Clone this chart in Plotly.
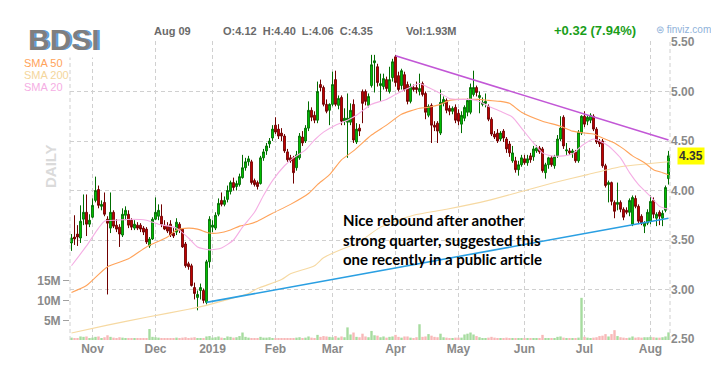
import plotly.graph_objects as go
import pandas as pd

# ---------------- data ----------------
holidays = ['2018-11-22', '2018-12-05', '2018-12-25', '2019-01-01', '2019-01-21',
            '2019-02-18', '2019-04-19', '2019-05-27', '2019-07-04']
dates = [d.strftime('%Y-%m-%d') for d in
         pd.bdate_range('2018-10-23', '2019-08-09', freq='C', holidays=holidays)]

month_labels = ['Nov', 'Dec', '2019', 'Feb', 'Mar', 'Apr', 'May', 'Jun', 'Jul', 'Aug']

open_ = [
    3.47, 3.53, 3.56, 3.52, 3.71, 3.78, 3.66,
    3.73, 3.90, 4.01, 3.84, 3.88, 3.71, 3.62, 3.78, 3.65, 3.63, 3.55, 3.75, 3.76, 3.70, 3.62, 3.65, 3.65, 3.62, 3.61, 3.44, 3.51,
    3.71, 3.74, 3.74, 3.65, 3.64, 3.66, 3.57, 3.58, 3.66, 3.61, 3.46, 3.26, 3.24, 3.02, 2.92, 2.99, 2.99, 2.87, 3.28,
    3.63, 3.62, 3.76, 3.90, 3.86, 3.91, 3.99, 4.08, 4.04, 4.06, 4.13, 4.23, 4.29, 4.29, 4.10, 4.08, 4.07, 4.33, 4.40, 4.47, 4.53,
    4.66, 4.62, 4.58, 4.55, 4.39, 4.33, 4.33, 4.23, 4.33, 4.54, 4.50, 4.63, 4.81, 4.76, 4.71, 5.07, 5.04, 4.87, 4.81,
    4.87, 5.12, 4.86, 4.94, 4.70, 4.69, 4.69, 4.87, 4.49, 4.63, 5.00, 5.00, 4.86, 5.06, 5.29, 5.25, 5.06, 5.05, 5.12, 5.00, 5.14,
    5.35, 5.16, 5.06, 5.17, 5.07, 4.90, 5.04, 5.04, 5.00, 5.08, 4.98, 4.76, 4.86, 4.66, 4.68, 4.58, 4.88, 4.91, 4.83, 4.80, 4.84,
    4.78, 4.67, 4.73, 4.79, 4.79, 4.97, 5.04, 4.94, 4.87, 4.88, 4.85, 4.72, 4.57, 4.58, 4.52, 4.60, 4.52, 4.47, 4.30, 4.30, 4.21, 4.26,
    4.32, 4.28, 4.35, 4.34, 4.40, 4.43, 4.42, 4.18, 4.26, 4.33, 4.25, 4.35, 4.52, 4.74, 4.40, 4.40, 4.38, 4.39, 4.30, 4.58,
    4.75, 4.70, 4.71, 4.75, 4.62, 4.50, 4.50, 4.25, 4.06, 4.08, 3.88, 3.86, 3.88, 3.81, 3.80, 3.78, 3.66, 3.92, 3.84, 3.74, 3.64, 3.67,
    3.69, 3.90, 3.72, 3.78, 3.72, 3.80, 4.12,
]
high = [
    3.56, 3.75, 3.65, 3.85, 3.96, 3.96, 3.76,
    3.92, 4.14, 4.05, 3.90, 3.98, 3.74, 3.98, 3.80, 3.71, 3.66, 3.82, 3.84, 3.80, 3.72, 3.70, 3.68, 3.67, 3.64, 3.63, 3.53, 3.73,
    3.93, 3.86, 3.86, 3.70, 3.68, 3.70, 3.62, 3.72, 3.68, 3.62, 3.48, 3.28, 3.26, 3.07, 2.99, 3.06, 3.01, 3.30, 3.74,
    3.70, 3.78, 3.92, 3.98, 3.94, 4.05, 4.10, 4.13, 4.10, 4.17, 4.36, 4.33, 4.35, 4.31, 4.12, 4.10, 4.35, 4.42, 4.48, 4.53, 4.66,
    4.74, 4.67, 4.63, 4.57, 4.42, 4.36, 4.35, 4.40, 4.58, 4.60, 4.66, 4.90, 4.84, 4.80, 5.10, 5.12, 5.06, 4.92, 4.88,
    5.20, 5.21, 4.96, 4.96, 4.83, 4.98, 4.88, 4.92, 4.68, 4.67, 5.02, 5.02, 4.98, 5.37, 5.37, 5.28, 5.18, 5.18, 5.15, 5.25, 5.33,
    5.37, 5.20, 5.23, 5.20, 5.10, 5.08, 5.07, 5.10, 5.18, 5.10, 5.00, 4.87, 4.88, 4.70, 4.70, 5.02, 4.95, 4.93, 4.86, 4.85, 4.87,
    4.82, 4.80, 4.86, 4.93, 5.08, 5.21, 5.06, 5.00, 4.94, 4.98, 4.87, 4.74, 4.60, 4.62, 4.60, 4.62, 4.54, 4.50, 4.45, 4.34, 4.30, 4.36,
    4.36, 4.36, 4.38, 4.45, 4.46, 4.45, 4.44, 4.28, 4.34, 4.35, 4.36, 4.56, 4.75, 4.76, 4.48, 4.43, 4.42, 4.41, 4.61, 4.76,
    4.80, 4.76, 4.78, 4.77, 4.64, 4.52, 4.52, 4.27, 4.10, 4.09, 3.90, 4.08, 3.90, 3.83, 3.83, 3.92, 3.95, 3.95, 3.86, 3.76, 3.69, 3.81,
    3.95, 3.93, 3.78, 3.80, 3.80, 4.05, 4.40,
]
low = [
    3.39, 3.45, 3.44, 3.47, 3.65, 3.54, 3.63,
    3.72, 3.88, 3.82, 3.80, 3.74, 2.95, 3.57, 3.62, 3.58, 3.43, 3.53, 3.70, 3.62, 3.60, 3.60, 3.60, 3.58, 3.55, 3.46, 3.42, 3.50,
    3.70, 3.70, 3.63, 3.60, 3.57, 3.53, 3.52, 3.55, 3.57, 3.42, 3.22, 3.20, 3.03, 2.90, 2.79, 2.90, 2.86, 2.85, 3.22,
    3.58, 3.60, 3.74, 3.84, 3.84, 3.88, 3.96, 4.00, 4.00, 4.04, 4.12, 4.20, 4.25, 4.06, 4.04, 4.01, 4.06, 4.30, 4.36, 4.43, 4.50,
    4.57, 4.52, 4.50, 4.38, 4.29, 4.28, 4.07, 4.20, 4.31, 4.45, 4.48, 4.60, 4.70, 4.68, 4.68, 5.00, 4.85, 4.78, 4.66,
    4.85, 4.85, 4.82, 4.66, 4.66, 4.33, 4.66, 4.48, 4.47, 4.55, 4.68, 4.86, 4.84, 5.04, 4.99, 5.05, 4.90, 5.02, 5.00, 4.98, 5.10,
    5.05, 5.00, 5.02, 5.00, 4.87, 4.88, 5.00, 4.98, 4.96, 4.95, 4.72, 4.74, 4.48, 4.60, 4.48, 4.56, 4.85, 4.78, 4.76, 4.77, 4.68,
    4.66, 4.58, 4.70, 4.75, 4.77, 4.95, 4.95, 4.78, 4.85, 4.84, 4.70, 4.55, 4.52, 4.48, 4.50, 4.49, 4.38, 4.34, 4.28, 4.18, 4.15, 4.24,
    4.26, 4.25, 4.28, 4.30, 4.38, 4.37, 4.18, 4.12, 4.22, 4.24, 4.22, 4.33, 4.50, 4.42, 4.36, 4.36, 4.33, 4.28, 4.28, 4.56,
    4.64, 4.66, 4.68, 4.60, 4.47, 4.44, 4.23, 4.03, 3.88, 3.85, 3.72, 3.80, 3.78, 3.70, 3.76, 3.74, 3.64, 3.82, 3.66, 3.65, 3.57, 3.65,
    3.66, 3.72, 3.64, 3.65, 3.64, 3.78, 4.06,
]
close = [
    3.52, 3.51, 3.53, 3.69, 3.78, 3.66, 3.70,
    3.85, 4.00, 3.85, 3.86, 3.76, 3.67, 3.78, 3.64, 3.61, 3.56, 3.76, 3.80, 3.65, 3.63, 3.66, 3.62, 3.61, 3.58, 3.48, 3.51, 3.71,
    3.78, 3.80, 3.66, 3.61, 3.59, 3.55, 3.54, 3.68, 3.60, 3.43, 3.24, 3.23, 3.04, 2.96, 2.95, 3.02, 2.89, 3.28, 3.71,
    3.65, 3.75, 3.87, 3.86, 3.90, 4.00, 4.08, 4.03, 4.07, 4.14, 4.23, 4.29, 4.32, 4.08, 4.06, 4.04, 4.33, 4.39, 4.45, 4.50, 4.62,
    4.59, 4.55, 4.55, 4.40, 4.31, 4.30, 4.18, 4.36, 4.55, 4.48, 4.63, 4.81, 4.74, 4.71, 5.00, 5.04, 4.87, 4.80, 4.87,
    5.07, 4.87, 4.93, 4.70, 4.73, 4.73, 4.81, 4.51, 4.62, 4.60, 4.88, 4.90, 4.95, 5.27, 5.31, 5.09, 5.08, 5.13, 5.03, 5.12, 5.30,
    5.09, 5.02, 5.21, 5.02, 4.90, 5.05, 5.02, 5.02, 5.03, 4.97, 4.79, 4.85, 4.66, 4.64, 4.60, 4.89, 4.92, 4.81, 4.80, 4.83, 4.71,
    4.70, 4.76, 4.84, 4.91, 5.04, 5.04, 4.99, 4.96, 4.89, 4.90, 4.72, 4.57, 4.54, 4.50, 4.58, 4.53, 4.42, 4.38, 4.38, 4.21, 4.26, 4.33,
    4.28, 4.32, 4.31, 4.42, 4.43, 4.39, 4.20, 4.26, 4.33, 4.26, 4.34, 4.52, 4.63, 4.45, 4.41, 4.38, 4.40, 4.30, 4.59, 4.75,
    4.67, 4.74, 4.76, 4.62, 4.49, 4.47, 4.25, 4.05, 4.08, 3.89, 3.79, 3.88, 3.81, 3.73, 3.78, 3.90, 3.93, 3.84, 3.69, 3.67, 3.67, 3.78,
    3.89, 3.76, 3.76, 3.74, 3.77, 4.03, 4.35,
]
volume_m = [
    0.6, 0.5, 0.4, 0.9, 0.8, 0.9, 0.5,
    0.6, 0.8, 0.9, 0.5, 0.7, 1.2, 0.8, 0.6, 0.5, 0.7, 0.6, 0.5, 0.5, 0.4, 0.4, 0.3, 0.3, 0.4, 0.5, 2.8, 0.8,
    0.7, 0.6, 0.5, 0.5, 0.4, 0.5, 0.4, 0.6, 0.5, 0.6, 0.7, 0.5, 0.6, 0.7, 0.5, 0.4, 0.5, 0.9, 1.0,
    0.6, 0.7, 0.9, 0.6, 0.5, 0.9, 0.8, 0.6, 0.7, 1.0, 1.9, 0.8, 0.6, 0.5, 0.4, 0.5, 0.8, 0.6, 0.6, 0.7, 0.5,
    0.5, 0.4, 0.4, 0.4, 0.3, 0.3, 0.5, 0.6, 0.7, 0.5, 0.6, 0.9, 0.6, 0.5, 1.3, 0.8, 1.0, 0.9, 0.8,
    0.7, 1.0, 0.6, 0.9, 0.7, 3.2, 1.4, 1.9, 0.8, 0.7, 1.6, 0.9, 0.7, 2.3, 1.2, 1.1, 0.7, 0.9, 0.6, 0.8, 0.9,
    1.3, 0.8, 0.6, 0.9, 0.9, 0.6, 0.5, 0.7, 4.0, 0.8, 0.9, 1.5, 1.1, 0.8, 0.7, 1.6, 0.7, 0.6, 0.5, 0.5, 0.6,
    0.6, 0.6, 1.4, 1.6, 1.9, 1.4, 1.0, 0.7, 0.5, 0.5, 0.6, 0.8, 0.6, 0.5, 0.4, 0.5, 0.6, 0.5, 0.4, 0.5, 0.4, 0.4,
    0.5, 0.4, 0.4, 0.5, 0.4, 0.5, 1.3, 0.5, 0.4, 0.4, 0.5, 0.8, 0.9, 0.6, 0.4, 0.4, 0.3, 0.4, 0.6, 10.7,
    0.8, 0.6, 0.5, 0.6, 0.7, 1.0, 1.1, 1.5, 0.9, 1.5, 2.5, 1.0, 0.7, 0.6, 0.4, 0.6, 0.9, 0.6, 0.7, 0.6, 0.7, 0.7,
    0.8, 0.7, 0.6, 0.6, 0.7, 0.9, 1.93,
]

# moving averages (trading-day index -> value)
sma20_idx = [0, 5, 9, 11, 15, 20, 25, 29, 35, 39, 42, 46, 50, 54, 57, 61, 64, 67, 71, 74, 78, 81, 84, 88, 92,
             95, 100, 105, 108, 112, 116, 119, 123, 126, 129, 133, 136, 139, 143, 147, 150, 154, 157, 160, 164,
             167, 170, 174, 176, 179, 183, 186, 189, 193, 196, 199]
sma20_val = [3.24, 3.44, 3.62, 3.69, 3.70, 3.71, 3.70, 3.66, 3.62, 3.52, 3.43, 3.40, 3.42, 3.50, 3.63, 3.78, 3.95,
             4.10, 4.25, 4.33, 4.41, 4.51, 4.59, 4.66, 4.71, 4.76, 4.87, 4.92, 4.97, 5.03, 5.08, 5.04, 4.98, 4.93,
             4.92, 4.92, 4.90, 4.85, 4.80, 4.74, 4.63, 4.48, 4.38, 4.35, 4.35, 4.37, 4.45, 4.52, 4.50, 4.45, 4.33,
             4.18, 4.06, 3.94, 3.84, 3.81]
sma50_idx = [0, 5, 12, 19, 25, 32, 35, 39, 42, 46, 49, 53, 56, 59, 62, 67, 73, 79, 82, 86, 90, 94, 100, 105, 110,
             116, 119, 123, 126, 129, 133, 136, 139, 143, 146, 150, 157, 163, 167, 171, 174, 177, 181, 184, 187,
             191, 194, 197, 199]
sma50_val = [2.97, 3.04, 3.23, 3.31, 3.43, 3.53, 3.60, 3.62, 3.61, 3.57, 3.57, 3.60, 3.64, 3.66, 3.69, 3.77, 3.86,
             3.97, 4.06, 4.16, 4.31, 4.40, 4.56, 4.66, 4.77, 4.83, 4.84, 4.87, 4.91, 4.92, 4.92, 4.92, 4.91, 4.90,
             4.88, 4.79, 4.70, 4.65, 4.60, 4.58, 4.57, 4.53, 4.48, 4.42, 4.35, 4.28, 4.21, 4.18, 4.16]
sma200_idx = [0, 12, 25, 39, 45, 51, 59, 62, 70, 73, 81, 84, 92, 95, 103, 114, 125, 139, 150, 161, 172, 183, 192, 199]
sma200_val = [2.56, 2.64, 2.72, 2.80, 2.84, 2.89, 2.96, 3.01, 3.10, 3.16, 3.24, 3.32, 3.43, 3.46, 3.63, 3.75, 3.81,
              3.90, 3.99, 4.08, 4.16, 4.24, 4.27, 4.29]

# hand-drawn trendlines (trading-day index, price)
support_idx, support_val = [45, 199], [2.87, 3.72]
resist_idx, resist_val = [108, 199], [5.36, 4.51]

price_ticks = [2.5, 3.0, 3.5, 4.0, 4.5, 5.0, 5.5]
vol_ticks = [5, 10, 15]
vol_tick_text = ['5M', '10M', '15M']

note_text = 'Nice rebound after another<br>strong quarter, suggested this<br>one recently in a public article'

# ---------------- figure ----------------
assert len(dates) == 200
for arr in (open_, high, low, close, volume_m):
    assert len(arr) == 200

month_starts = [d for k, d in enumerate(dates) if k > 0 and d[5:7] != dates[k - 1][5:7]]

W, H = 719, 368
ML, MR, MT, MB = 62, 57, 33, 36
PW, PH = W - ML - MR, H - MT - MB


def px(x):
    return (x - ML) / PW


def py(y):
    return (H - MB - y) / PH


ARIAL = 'Arial, Liberation Sans, sans-serif'
GRID = '#d0d0d0'

vol_colors = ['#a6dc9f' if c >= o else '#f8b8b8' for o, c in zip(open_, close)]

fig = go.Figure()
fig.add_trace(go.Bar(x=dates, y=volume_m, marker_color=vol_colors, marker_line_width=0,
                     yaxis='y', hoverinfo='skip', showlegend=False))

for idx, val, col in [(sma200_idx, sma200_val, '#f6d9a2'),
                      (sma50_idx, sma50_val, '#ffa35a'),
                      (sma20_idx, sma20_val, '#f5aee4')]:
    fig.add_trace(go.Scatter(x=[dates[i] for i in idx], y=val, mode='lines', yaxis='y2',
                             line=dict(color=col, width=1.1, shape='spline', smoothing=0.6),
                             hoverinfo='skip', showlegend=False))

fig.add_trace(go.Candlestick(
    x=dates, open=open_, high=high, low=low, close=close, yaxis='y2',
    increasing=dict(line=dict(color='#006c00', width=1), fillcolor='#00d400'),
    decreasing=dict(line=dict(color='#700000', width=1), fillcolor='#d40000'),
    whiskerwidth=0, hoverinfo='skip', showlegend=False))

fig.add_trace(go.Scatter(x=[dates[i] for i in support_idx], y=support_val, mode='lines', yaxis='y2',
                         line=dict(color='#2a9fe2', width=1.6), hoverinfo='skip', showlegend=False))
fig.add_trace(go.Scatter(x=[dates[i] for i in resist_idx], y=resist_val, mode='lines', yaxis='y2',
                         line=dict(color='#c257d6', width=1.6), hoverinfo='skip', showlegend=False))

tick_font = dict(family=ARIAL, size=12, color='#8a8a8a', weight='bold')

fig.update_layout(
    width=W, height=H, margin=dict(l=ML, r=MR, t=MT, b=MB),
    paper_bgcolor='white', plot_bgcolor='white',
    showlegend=False, bargap=0.2, boxgap=0.15,
    xaxis=dict(type='category', categoryorder='array', categoryarray=dates,
               range=[-0.5, len(dates) - 0.5],
               tickvals=month_starts, ticktext=month_labels,
               showgrid=True, gridcolor=GRID, griddash='4px,3px', gridwidth=1,
               zeroline=False, showline=False, ticks='', tickfont=tick_font,
               rangeslider=dict(visible=False)),
    yaxis=dict(range=[0, 75.9], side='left', tickvals=vol_ticks, ticktext=vol_tick_text,
               showgrid=False, zeroline=False, showline=False,
               ticks='outside', ticklen=6, tickcolor='#a0a0a0', tickfont=tick_font),
    yaxis2=dict(overlaying='y', side='right', range=[2.49, 5.51],
                tickvals=price_ticks, ticktext=['%.2f' % v for v in price_ticks],
                showgrid=True, gridcolor=GRID, griddash='4px,3px', gridwidth=1,
                zeroline=False, showline=False,
                ticks='', tickfont=tick_font),
)

dash_line = dict(color=GRID, width=1, dash='4px,3px')
fig.add_shape(type='line', xref='paper', yref='paper', x0=0, x1=0, y0=0, y1=1, line=dash_line)
fig.add_shape(type='line', xref='paper', yref='paper', x0=1, x1=1, y0=0, y1=1, line=dash_line)
fig.add_shape(type='line', xref='paper', yref='paper', x0=0, x1=1, y0=py(362), y1=py(362), line=dash_line)
fig.add_shape(type='line', xref='paper', yref='paper', x0=0, x1=0, y0=py(362), y1=py(372), line=dash_line)

ann = []
# ticker with blue shadow
ann.append(dict(text='BDSI', x=px(19.5), y=py(31), xanchor='left', yanchor='middle',
                font=dict(family=ARIAL, size=30, color='#5f9fd8', weight='bold'),
                bgcolor='white', borderpad=1))
ann.append(dict(text='BDSI', x=px(18), y=py(31), xanchor='left', yanchor='middle',
                font=dict(family=ARIAL, size=30, color='#7f7f7f', weight='bold'), borderpad=1))
ann.append(dict(text='SMA 50', x=px(14), y=py(55), xanchor='left', yanchor='middle',
                font=dict(family=ARIAL, size=11, color='#ffa35a')))
ann.append(dict(text='SMA 200', x=px(14), y=py(67), xanchor='left', yanchor='middle',
                font=dict(family=ARIAL, size=11, color='#f4d69c')))
ann.append(dict(text='SMA 20', x=px(14), y=py(79), xanchor='left', yanchor='middle',
                font=dict(family=ARIAL, size=11, color='#f5aee4')))
ann.append(dict(text='DAILY', x=px(42), y=py(158), xanchor='center', yanchor='middle', textangle=-90,
                font=dict(family=ARIAL, size=15, color='#dadada', weight='bold')))
hdr = dict(family=ARIAL, size=11, color='#6a6a6a', weight='bold')
ann.append(dict(text='Aug 09', x=px(144), y=py(23), xanchor='left', yanchor='middle', font=hdr))
ann.append(dict(text='O:4.12&nbsp;&nbsp;H:4.40&nbsp;&nbsp;L:4.06&nbsp;&nbsp;C:4.35', x=px(213), y=py(23),
                xanchor='left', yanchor='middle', font=hdr))
ann.append(dict(text='Vol:1.93M', x=px(396), y=py(23), xanchor='left', yanchor='middle', font=hdr))
ann.append(dict(text='+0.32 (7.94%)', x=px(544), y=py(22), xanchor='left', yanchor='middle',
                font=dict(family=ARIAL, size=13, color='#1a9e1a', weight='bold')))
ann.append(dict(text='⊜ finviz.com', x=px(646), y=py(21), xanchor='left', yanchor='middle',
                font=dict(family=ARIAL, size=10, color='#8fb2da')))
ann.append(dict(text='4.35', x=px(669), y=4.35, yref='y2', xanchor='left', yanchor='middle',
                font=dict(family=ARIAL, size=12, color='#333333', weight='bold'),
                bgcolor='#ffff00', borderpad=1))
ann.append(dict(text=note_text, x=px(333), y=py(231), xanchor='left', yanchor='middle', align='left',
                font=dict(family='Lato, Open Sans, sans-serif', size=15, color='#000000', weight='bold')))
ann.append(dict(text='RSI 14', x=px(14), y=py(361), xanchor='left', yanchor='top',
                font=dict(family=ARIAL, size=12, color='#555555', weight='bold')))

for a in ann:
    a.setdefault('xref', 'paper')
    a.setdefault('yref', 'paper')
    a['showarrow'] = False
fig.update_layout(annotations=ann)

fig.write_html('out.html')
